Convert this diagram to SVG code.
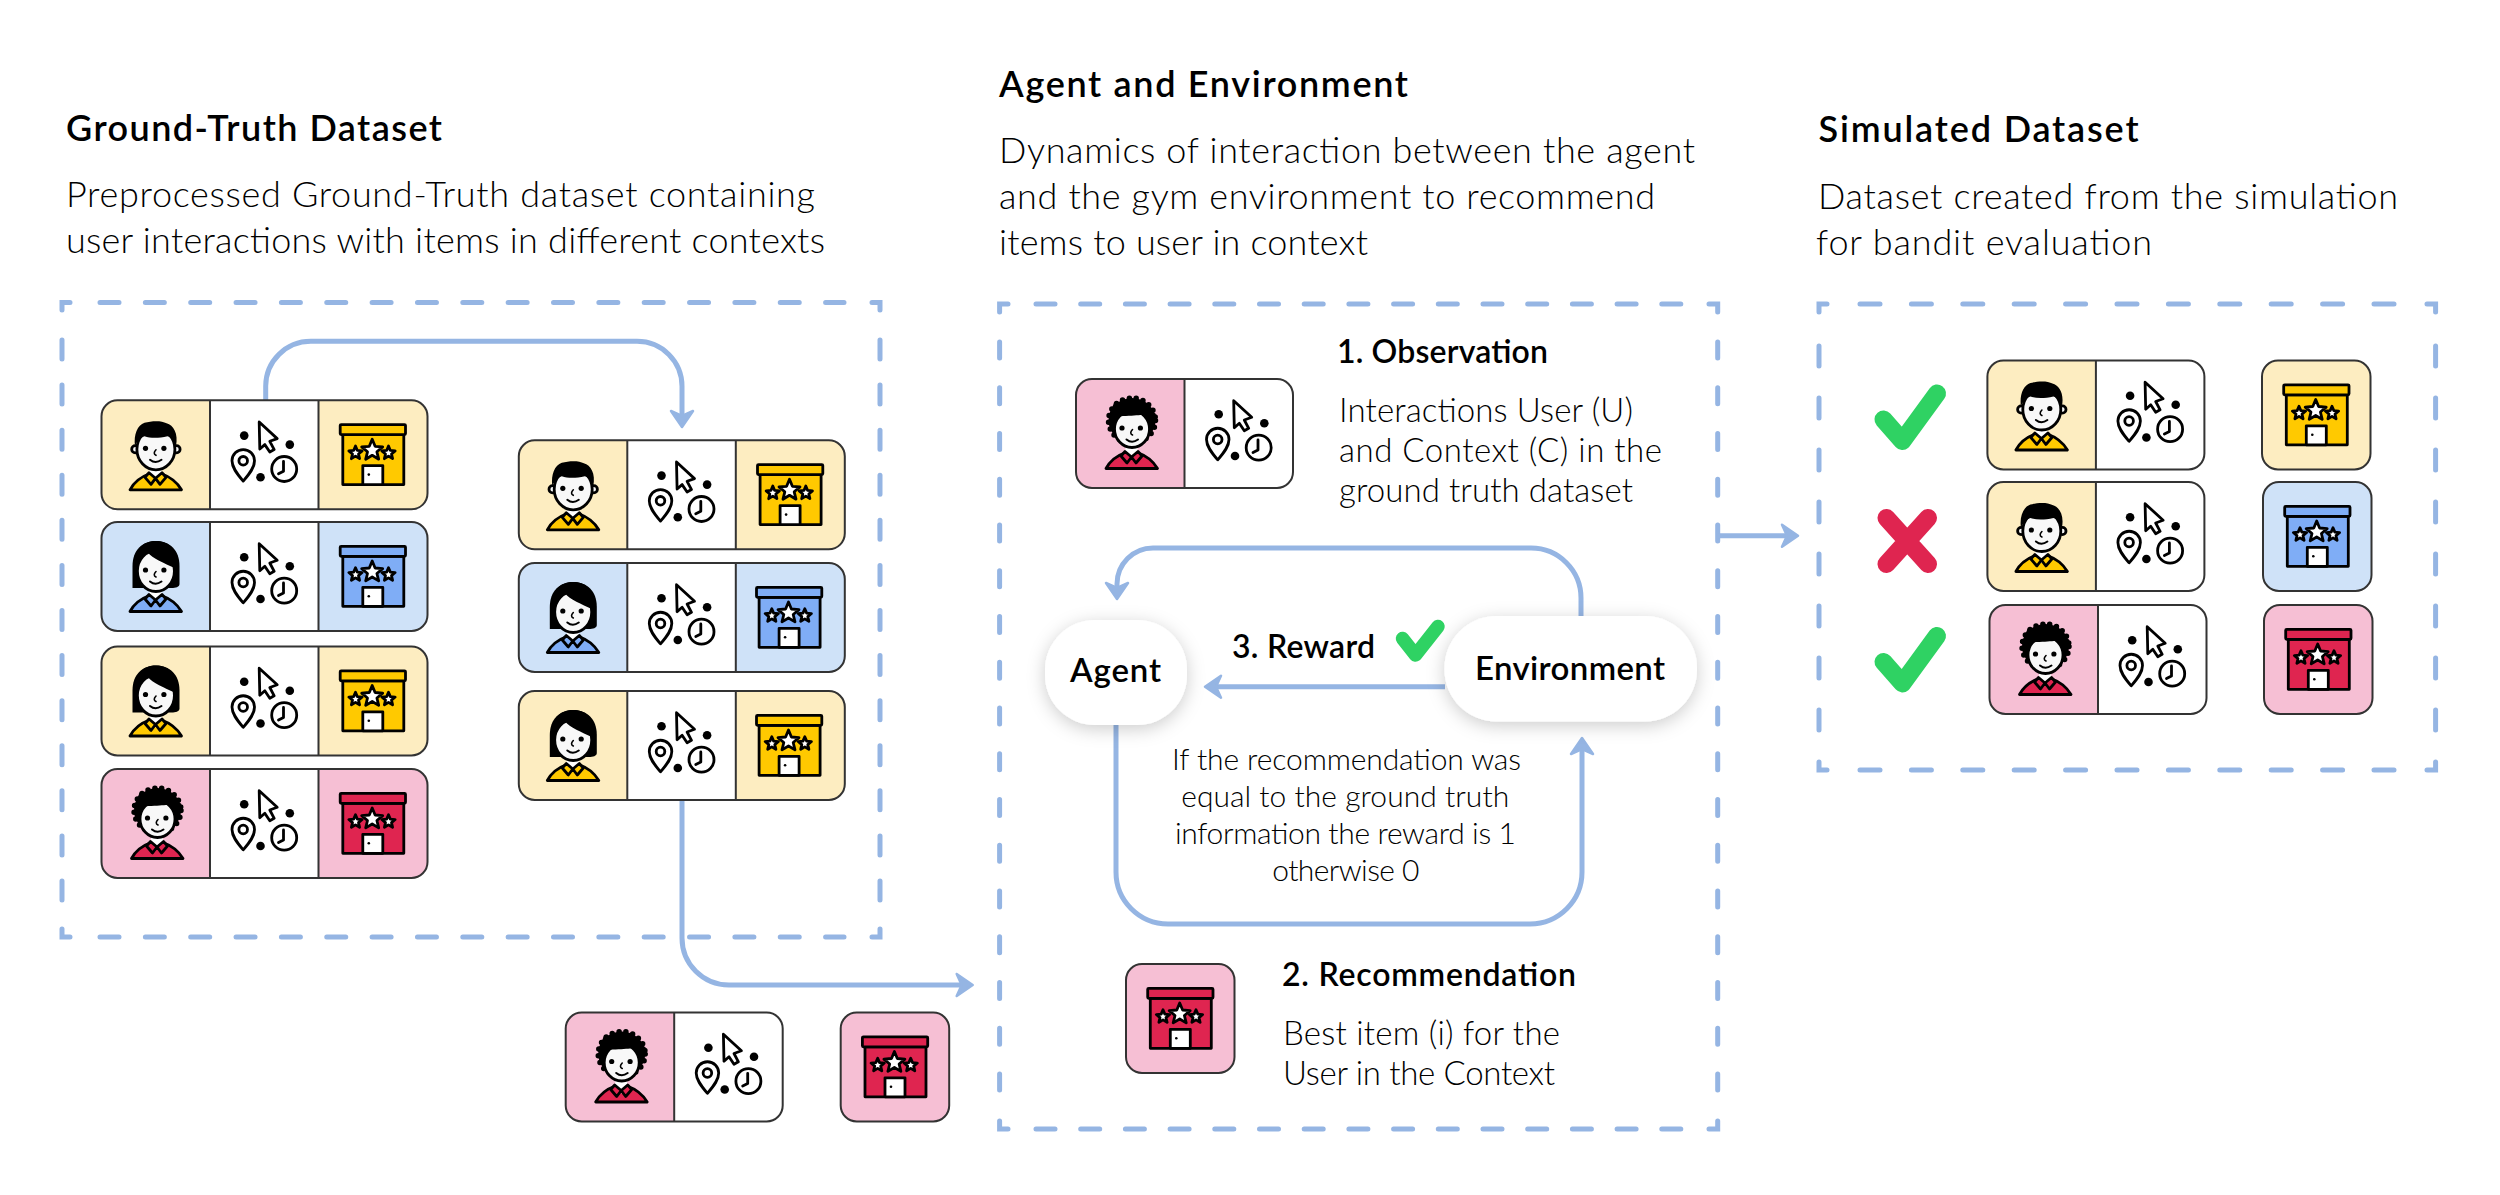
<svg xmlns="http://www.w3.org/2000/svg" width="2500" height="1195" viewBox="0 0 2500 1195">
<style>
.y{--bg:#fdedc1;--fg:#ffc900}
.b{--bg:#cfe2f8;--fg:#7fadf6}
.r{--bg:#f6bfd4;--fg:#df2550}
.bg{fill:var(--bg)}
.fg{fill:var(--fg)}
.ol{fill:none;stroke:#333;stroke-width:2}
.k{stroke:#000;stroke-width:2.8;stroke-linejoin:round;stroke-linecap:round}
.wf{fill:#fff}
.face{fill:#f8f8f8}
.dash{fill:none;stroke:#95b5e3;stroke-width:5;stroke-linecap:round}
.conn{fill:none;stroke:#95b5e3;stroke-width:5;marker-end:url(#head)}
.pill{fill:#fff;filter:url(#soft)}
text{font-family:"Lato","Liberation Sans",sans-serif;fill:#000}
.h{font-size:36px;font-weight:600}
.d{font-size:36px;font-weight:300}
.sh{font-size:32px;font-weight:600}
.big{font-size:33px}
.sd{font-size:33px;font-weight:300}
.c{font-size:30px;font-weight:300;text-anchor:middle}
.mark{fill:none;stroke-width:18;stroke-linecap:round;stroke-linejoin:round}
.small{stroke-width:13.500}
</style>
<defs>
<filter id="soft" x="-30%" y="-40%" width="160%" height="190%"><feDropShadow dx="0" dy="4" stdDeviation="9" flood-color="#000" flood-opacity=".2"/></filter>
<marker id="head" markerUnits="userSpaceOnUse" viewBox="-2 -14 22 28" markerWidth="22" markerHeight="28" refX="10" refY="0" orient="auto"><path d="M0-11 16 0 0 11 5 0Z" fill="#95b5e3" stroke="#95b5e3" stroke-width="2.5" stroke-linejoin="round"/></marker>
<polygon id="starB" points="0,-11 2.9,-4 10.5,-3.4 4.7,1.5 6.5,8.9 0,5 -6.5,8.9 -4.7,1.5 -10.5,-3.4 -2.9,-4" class="wf k"/>
<polygon id="starS" points="0,-7 1.85,-2.55 6.66,-2.16 3,.97 4.1,5.66 0,3.15 -4.1,5.66 -3,.97 -6.66,-2.16 -1.85,-2.55" class="wf k"/>
<g id="card3">
<rect width="326" height="109" rx="16" class="wf"/>
<path class="bg" d="M108.500 0H16A16 16 0 0 0 0 16V93A16 16 0 0 0 16 109H108.500Z"/>
<path class="bg" d="M217 0H310A16 16 0 0 1 326 16V93A16 16 0 0 1 310 109H217Z"/>
<rect width="326" height="109" rx="16" class="ol"/>
<path class="ol" d="M108.500 0V109M217 0V109"/>
</g>
<g id="card2">
<rect width="217" height="109" rx="16" class="wf"/>
<path class="bg" d="M108.500 0H16A16 16 0 0 0 0 16V93A16 16 0 0 0 16 109H108.500Z"/>
<rect width="217" height="109" rx="16" class="ol"/>
<path class="ol" d="M108.500 0V109"/>
</g>
<g id="card1"><rect width="108.500" height="109" rx="16" class="bg"/><rect width="108.500" height="109" rx="16" class="ol"/></g>
<g id="shirt">
<path class="fg k" d="M28.500 89.500C33 81 41 76 48 73.500L60 73.500C67 76 75 81 80 89.500Z"/>
<path class="wf" d="M48 66H60V78L54 81 48 78Z"/>
<path class="fg k" d="M47.500 72.500 54 78 49.500 84 43.500 77ZM60.500 72.500 54 78 58.500 84 64.500 77Z"/>
</g>
<g id="features">
<circle cx="44" cy="48" r="2.600"/><circle cx="62.400" cy="48" r="2.600"/>
<path d="M54.500 49.500Q51 53 54.500 55" fill="none" stroke="#000" stroke-width="1.600" stroke-linecap="round"/>
<path d="M48.500 59.500Q54 64 60 59.500" fill="none" stroke="#000" stroke-width="2" stroke-linecap="round"/>
</g>
<g id="man">
<use href="#shirt"/>
<circle cx="33.800" cy="49" r="3.600" class="face k"/><circle cx="75" cy="49" r="3.600" class="face k"/>
<ellipse cx="54.400" cy="49" rx="19" ry="20.500" class="face k"/>
<path d="M33.500 46C32 34 36 25 43 22.500 50 20.500 60 20 65 23 72 25 77 33 74.500 46 73 41 70 37 66 36 57 38 49 38 43 36 38 38 35 42 33.500 46Z"/>
<use href="#features"/>
</g>
<g id="woman">
<path d="M31 65V44C31 28 41 19 54.500 19 68 19 78 28 78 44V62C78 65 74 66 70 66H31Z"/>
<use href="#shirt"/>
<ellipse cx="54.400" cy="49" rx="18.500" ry="20.500" class="face k"/>
<path d="M35.500 52C35 40 42 36 46 30 51 37 63 41 73 46L77 40C75 26 66 19 54.500 19 42 19 33 27 33 42Z"/>
<use href="#features"/>
</g>
<g id="curly">
<use href="#shirt" x="1.500"/>
<ellipse cx="56" cy="41.500" rx="23.500" ry="22.500" fill="#000" stroke="#000" stroke-width="5.500" stroke-linecap="round" stroke-dasharray="0 7"/>
<ellipse cx="56" cy="50" rx="17.500" ry="18.500" class="face k"/>
<path d="M38.500 47C39 40 42 37 47 37 55 37 62 36 66 36 71 38 73.500 42 73.500 47L80 35 60 20 38 24 32 38Z"/>
<use href="#features" x="2" y="1"/>
</g>
<g id="ctx">
<circle cx="142.700" cy="35.300" r="4.300"/><circle cx="188.300" cy="44.300" r="4.300"/><circle cx="159" cy="77" r="4.300"/>
<path class="wf k" d="M157.700 21.700 175.700 38.300 168.300 41 172.700 49.300 168.300 51.700 163.300 44.300 158.300 48.700Z"/>
<path class="wf k" d="M141.700 80.800C135 73 130.500 67 130.500 60.500A11.200 11.200 0 0 1 153 60.500C153 67 148.500 73 141.700 80.800Z"/>
<circle cx="141.700" cy="60.500" r="4.300" class="wf k"/>
<circle cx="182.700" cy="68.700" r="12.500" class="wf k"/>
<path class="k" fill="none" d="M182 61V71L177 73.500"/>
</g>
<g id="bldg">
<rect x="24.300" y="34.300" width="61" height="50" class="fg k"/>
<rect x="21.700" y="24.300" width="65.300" height="10" rx="1" class="fg k"/>
<rect x="44.300" y="65.300" width="20" height="19" class="wf k"/>
<circle cx="50.300" cy="74.300" r="1.300"/>
<use href="#starB" x="53.700" y="50"/>
<use href="#starS" x="37" y="52.700"/>
<use href="#starS" x="70" y="52.700"/>
</g>
</defs>

<rect width="2500" height="1195" fill="#fff"/>

<g id="frames">
<g id="frame-ground-truth">
<path class="dash" stroke-dasharray="19 26.350" d="M100 302.600H844M100 937H844"/>
<path class="dash" stroke-dasharray="19 26.080" d="M62 340V900M880 340V900"/>
<path class="dash" d="M62 310V302.600H70M872 302.600H880V310M62 929V937H70M872 937H880V929"/>
</g>
<g id="frame-agent">
<path class="dash" stroke-dasharray="19 25.700" d="M1036 304H1682M1036 1129H1682"/>
<path class="dash" stroke-dasharray="16 29.750" d="M999.600 342V1092M1717.700 342V1092"/>
<path class="dash" d="M999.600 312V304H1008M1709 304H1717.700V312M999.600 1121V1129H1008M1709 1129H1717.700V1121"/>
</g>
<g id="frame-simulated">
<path class="dash" stroke-dasharray="20 31.400" d="M1860 304H2395M1860 770H2395"/>
<path class="dash" stroke-dasharray="20 32" d="M1819 346V730M2435.600 346V730"/>
<path class="dash" d="M1819 312V304H1827M2427 304H2435.600V312M1819 762V770H1827M2427 770H2435.600V762"/>
</g>
</g>

<g id="connectors">
<path class="conn" d="M265.700 400V386A45 45 0 0 1 310.700 341.300H637A45 45 0 0 1 682 386.300V421"/>
<path class="conn" d="M682 799V938A47 47 0 0 0 729 985H966.700"/>
<path class="conn" d="M1718 535.700H1792"/>
<path class="conn" d="M1581 616V598A50 50 0 0 0 1531 548H1153A36 36 0 0 0 1117 584V593"/>
<path class="conn" d="M1445 686.700H1211"/>
<path class="conn" d="M1116 725V872A52 52 0 0 0 1168 924H1530A52 52 0 0 0 1582 872V744"/>
</g>

<g id="heading-ground-truth">
<text class="h" x="66" y="140.700" textLength="376">Ground-Truth Dataset</text>
<text class="d" x="66" y="207.300" textLength="749">Preprocessed Ground-Truth dataset containing</text>
<text class="d" x="66" y="253.300" textLength="759">user interactions with items in different contexts</text>
</g>
<g id="heading-agent">
<text class="h" x="999" y="96.700" textLength="409">Agent and Environment</text>
<text class="d" x="999" y="163.300" textLength="696">Dynamics of interaction between the agent</text>
<text class="d" x="999" y="209" textLength="656">and the gym environment to recommend</text>
<text class="d" x="999" y="255" textLength="369">items to user in context</text>
</g>
<g id="heading-simulated">
<text class="h" x="1818.600" y="142.300" textLength="320">Simulated Dataset</text>
<text class="d" x="1818" y="209.300" textLength="580">Dataset created from the simulation</text>
<text class="d" x="1816" y="255" textLength="336">for bandit evaluation</text>
</g>

<g id="gt-1" class="y" transform="translate(101.500 400.300)"><use href="#card3"/><use href="#man"/><use href="#ctx"/><use href="#bldg" x="217"/></g>
<g id="gt-2" class="b" transform="translate(101.500 522)"><use href="#card3"/><use href="#woman"/><use href="#ctx"/><use href="#bldg" x="217"/></g>
<g id="gt-3" class="y" transform="translate(101.500 646.500)"><use href="#card3"/><use href="#woman"/><use href="#ctx"/><use href="#bldg" x="217"/></g>
<g id="gt-4" class="r" transform="translate(101.500 769)"><use href="#card3"/><use href="#curly"/><use href="#ctx"/><use href="#bldg" x="217"/></g>

<g id="gt-sel-1" class="y" transform="translate(518.800 440.300)"><use href="#card3"/><use href="#man"/><use href="#ctx"/><use href="#bldg" x="217"/></g>
<g id="gt-sel-2" class="b" transform="translate(518.800 563)"><use href="#card3"/><use href="#woman"/><use href="#ctx"/><use href="#bldg" x="216"/></g>
<g id="gt-sel-3" class="y" transform="translate(518.800 691)"><use href="#card3"/><use href="#woman"/><use href="#ctx"/><use href="#bldg" x="216"/></g>

<g id="sample-interaction" class="r" transform="translate(565.700 1012.500)"><use href="#card2"/><use href="#curly"/><use href="#ctx"/></g>
<g id="sample-item" class="r" transform="translate(840.700 1012.500)"><use href="#card1"/><use href="#bldg"/></g>

<g id="observation">
<g class="r" transform="translate(1076 379)"><use href="#card2"/><use href="#curly"/><use href="#ctx"/></g>
<text class="sh" x="1337" y="363" textLength="211">1. Observation</text>
<text class="sd" x="1339" y="422" textLength="294">Interactions User (U)</text>
<text class="sd" x="1339" y="462" textLength="323">and Context (C) in the</text>
<text class="sd" x="1339" y="502" textLength="294">ground truth dataset</text>
</g>

<g id="agent"><rect class="pill" x="1045" y="620" width="142" height="105" rx="50"/><text class="sh big" x="1070" y="682" textLength="91">Agent</text></g>
<g id="environment"><rect class="pill" x="1444.500" y="616" width="252.500" height="105.500" rx="52"/><text class="sh big" x="1475" y="680" textLength="190">Environment</text></g>

<g id="reward">
<text class="sh" x="1232" y="658" textLength="143">3. Reward</text>
<path class="mark small" stroke="#2fd263" d="M1402.500 638.500 1415.500 655 1438 626.500"/>
</g>
<g id="reward-note">
<text class="c" x="1346.500" y="770" textLength="349">If the recommendation was</text>
<text class="c" x="1345.200" y="807" textLength="328">equal to the ground truth</text>
<text class="c" x="1345.500" y="844" textLength="341">information the reward is 1</text>
<text class="c" x="1345.800" y="881" textLength="147">otherwise 0</text>
</g>

<g id="recommendation">
<g class="r" transform="translate(1126 964)"><use href="#card1"/><use href="#bldg"/></g>
<text class="sh" x="1282" y="986" textLength="294">2. Recommendation</text>
<text class="sd" x="1283" y="1044.500" textLength="277">Best item (i) for the</text>
<text class="sd" x="1283" y="1085" textLength="272">User in the Context</text>
</g>

<g id="sim-1">
<path class="mark" stroke="#2fd263" d="M1883.500 419.500 1902.400 441 1937 393.500"/>
<g class="y" transform="translate(1987.400 360.500)"><use href="#card2"/><use href="#man"/><use href="#ctx"/></g>
<g class="y" transform="translate(2262 360.500)"><use href="#card1"/><use href="#bldg"/></g>
</g>
<g id="sim-2">
<path class="mark" stroke="#df2550" d="M1886.500 518 1928 564M1928 518 1886.500 564"/>
<g class="y" transform="translate(1987.400 482)"><use href="#card2"/><use href="#man"/><use href="#ctx"/></g>
<g class="b" transform="translate(2263 482)"><use href="#card1"/><use href="#bldg"/></g>
</g>
<g id="sim-3">
<path class="mark" stroke="#2fd263" d="M1883.500 661.900 1902.400 683.400 1937 635.900"/>
<g class="r" transform="translate(1989.500 605)"><use href="#card2"/><use href="#curly"/><use href="#ctx"/></g>
<g class="r" transform="translate(2264 605)"><use href="#card1"/><use href="#bldg"/></g>
</g>
</svg>
